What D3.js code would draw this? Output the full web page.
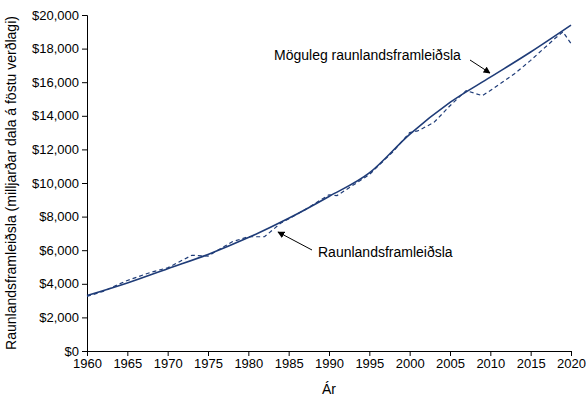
<!DOCTYPE html>
<html><head><meta charset="utf-8">
<script src="https://cdn.jsdelivr.net/npm/d3@7"></script>
<style>body{margin:0;background:#fff}text{font-family:Arial,"Liberation Sans",sans-serif}</style>
</head><body><svg id="c" width="586" height="404"></svg>
<script>
let potYears = [1960,1965,1970,1975,1980,1985,1990,1995,2000,2005,2010,2015,2020]
let potValues = [3300,4050,4900,5750,6750,7900,9200,10600,12900,14800,16300,17800,19400]
let realYears = [1960,1962,1965,1968,1970,1973,1975,1978,1980,1982,1984,1987,1990,1991,1995,1998,2000,2001,2003,2005,2007,2009,2010,2013,2015,2018,2019,2020]
let realValues = [3250,3550,4200,4700,4950,5700,5650,6500,6800,6800,7600,8400,9300,9250,10500,11900,13000,13100,13600,14600,15500,15200,15500,16500,17300,18600,19000,18300]
let yTicks = d3.range(0,20001,2000)
let xTicks = d3.range(1960,2021,5)

let col = "#1f3c78"
let svg = d3.select("#c")
let m = {l:87, r:571, t:15, b:351}
let x = d3.scaleLinear().domain([1960,2020]).range([m.l,m.r])
let y = d3.scaleLinear().domain([0,20000]).range([m.b,m.t])

svg.append("g").attr("transform",`translate(0,${m.b})`)
  .call(d3.axisBottom(x).tickValues(xTicks).tickFormat(d3.format("d")).tickSize(5))
  .call(g=>g.selectAll("text").attr("font-size",13).attr("fill","#000"))
svg.append("g").attr("transform",`translate(${m.l},0)`)
  .call(d3.axisLeft(y).tickValues(yTicks).tickFormat(d=>"$"+d3.format(",")(d)).tickSize(5))
  .call(g=>g.selectAll("text").attr("font-size",13).attr("fill","#000"))
svg.selectAll(".domain,.tick line").attr("stroke","#000")

let line = d3.line().x(d=>x(d[0])).y(d=>y(d[1])).curve(d3.curveMonotoneX)
svg.append("path").datum(d3.zip(potYears,potValues)).attr("d",line)
  .attr("fill","none").attr("stroke",col).attr("stroke-width",1.6)
svg.append("path").datum(d3.zip(realYears,realValues)).attr("d",d3.line().x(d=>x(d[0])).y(d=>y(d[1])))
  .attr("fill","none").attr("stroke",col).attr("stroke-width",1.2).attr("stroke-dasharray","4,3")

svg.append("defs").append("marker").attr("id","ah").attr("viewBox","0 0 10 10").attr("refX",9).attr("refY",5)
  .attr("markerWidth",7).attr("markerHeight",7).attr("orient","auto")
  .append("path").attr("d","M0,0L10,5L0,10z").attr("fill","#000")
svg.append("path").attr("d","M470,60 L490,73").attr("stroke","#000").attr("fill","none").attr("marker-end","url(#ah)")
svg.append("text").attr("x",274).attr("y",60).attr("font-size",14).text("Möguleg raunlandsframleiðsla")
svg.append("path").attr("d","M312,250 L278,232").attr("stroke","#000").attr("fill","none").attr("marker-end","url(#ah)")
svg.append("text").attr("x",318).attr("y",257).attr("font-size",14).text("Raunlandsframleiðsla")

svg.append("text").attr("x",329).attr("y",394).attr("text-anchor","middle").attr("font-size",14).text("Ár")
svg.append("text").attr("transform","translate(16,183) rotate(-90)").attr("text-anchor","middle")
  .attr("font-size",14).text("Raunlandsframleiðsla (milljarðar dala á föstu verðlagi)")
</script></body></html>
